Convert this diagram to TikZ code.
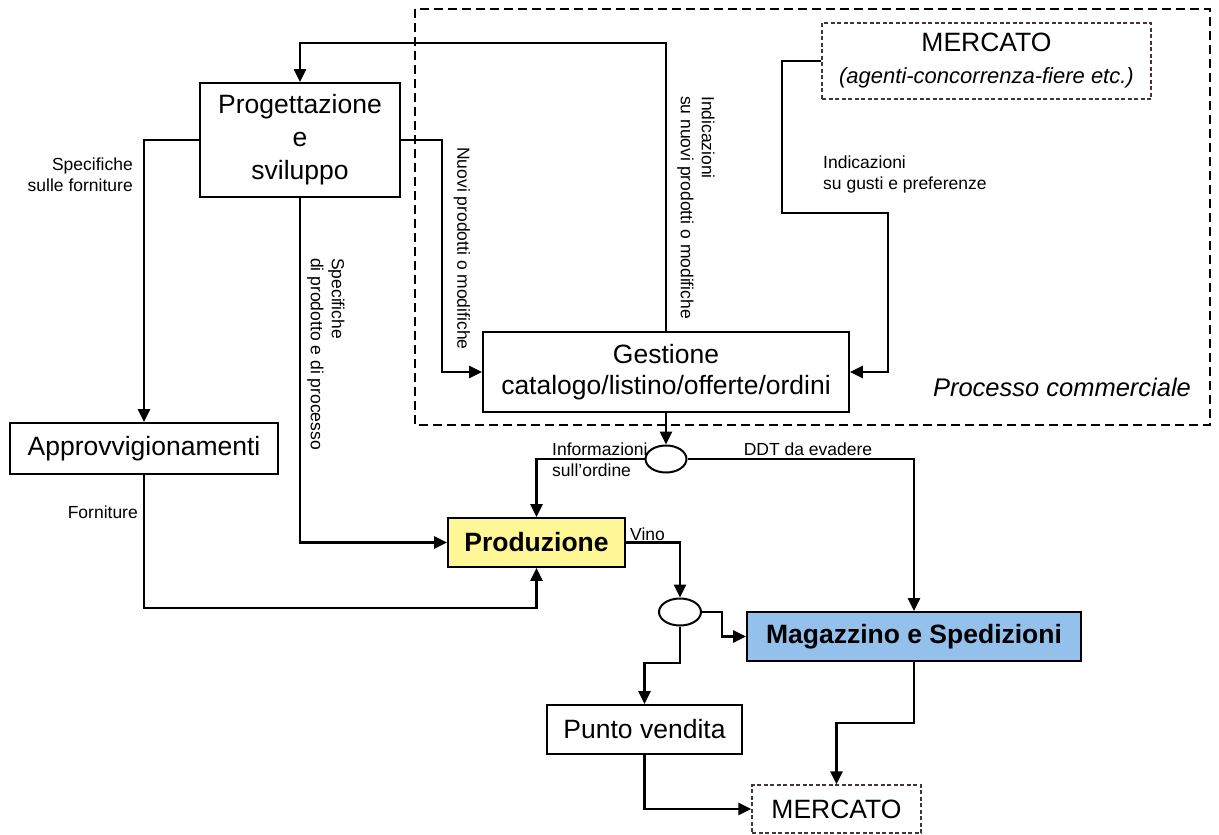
\documentclass[tikz,border=0pt]{standalone}
\usepackage{fontspec}
\setmainfont{Liberation Sans}
\usetikzlibrary{arrows.meta,shapes.geometric}
\definecolor{prodyellow}{RGB}{255,247,150}
\definecolor{magblue}{RGB}{148,192,236}
\definecolor{mercdash}{RGB}{70,50,60}
\begin{document}
\begin{tikzpicture}[x=1pt,y=-1pt,
  box/.style={draw=black,line width=1.8pt,rectangle,inner sep=0pt,align=center,
    font=\fontsize{26.5}{32}\selectfont},
  dbox/.style={box,draw=mercdash,dash pattern=on 4pt off 2.5pt,line width=1.5pt},
  conn/.style={line width=2.7pt,-{Triangle[length=13pt,width=12pt]}},
  lbl/.style={inner sep=0pt,font=\fontsize{17.5}{21}\selectfont},
  junc/.style={draw=black,line width=2pt,ellipse,fill=white,inner sep=0pt}]
\useasboundingbox (0,0) rectangle (1219,835);
\fill[white] (0,0) rectangle (1219,835);

% process region
\draw[line width=2.4pt,dash pattern=on 9pt off 5pt] (415,9) rectangle (1210,425);
\node[inner sep=0pt,font=\fontsize{25.5}{30}\selectfont\itshape] (pc) at (1062,387) {Processo commerciale};

% nodes
\node[box,minimum width=200pt,minimum height=114pt,font=\fontsize{26.5}{33}\selectfont] (prog) at (300,140) {Progettazione\\e\\sviluppo};
\node[box,minimum width=366pt,minimum height=80pt,font=\fontsize{26.5}{31}\selectfont] (gest) at (666,372) {Gestione\\catalogo/listino/offerte/ordini};
\node[box,minimum width=268pt,minimum height=51pt] (appr) at (144,448.5) {Approvvigionamenti};
\node[box,fill=prodyellow,minimum width=177pt,minimum height=49pt,font=\fontsize{26.5}{32}\selectfont\bfseries] (prod) at (536.5,542.5) {Produzione};
\node[box,fill=magblue,minimum width=334pt,minimum height=49pt,font=\fontsize{26.5}{32}\selectfont\bfseries] (mag) at (914,636.5) {Magazzino e Spedizioni};
\node[box,minimum width=195pt,minimum height=49pt] (pv) at (644.5,729.5) {Punto vendita};
\node[dbox,minimum width=169pt,minimum height=48pt] (merc2) at (836.5,809) {MERCATO};
\node[dbox,minimum width=329pt,minimum height=76pt] (merc1) at (986.5,61) {MERCATO\\{\fontsize{22}{28}\selectfont\itshape (agenti-concorrenza-fiere etc.)}};
\node[junc,minimum width=41pt,minimum height=27pt] (e1) at (666,459) {};
\node[junc,minimum width=42pt,minimum height=27pt] (e2) at (680,612) {};

% bend points
\coordinate (top1) at (666,43);
\coordinate (top2) at (300,43);
\coordinate (b2) at (442,140);
\coordinate (b5) at (144,608);
\coordinate (m1) at (782,61);
\coordinate (m2) at (782,213);
\coordinate (m3) at (888,213);
\coordinate (b11) at (722,612);
\coordinate (b12) at (680,663);
\coordinate (b14) at (914,723);

% connectors
\draw[conn] (gest.north) -- (top1) -- (top2) -- (prog.north);
\draw[conn] (prog.east) -- (b2) |- (gest.west);
\draw[conn] (prog.west) -| (appr.north);
\draw[conn] (prog.south) |- (prod.west);
\draw[conn] (appr.south) -- (b5) -| (prod.south);
\draw[conn] (merc1.west) -- (m1) -- (m2) -- (m3) |- (gest.east);
\draw[conn] (gest.south) -- (e1.north);
\draw[conn] (e1.west) -| (prod.north);
\draw[conn] (e1.east) -| (mag.north);
\draw[conn] (prod.east) -| (e2.north);
\draw[conn] (e2.east) -- (b11) |- (mag.west);
\draw[conn] (e2.south) -- (b12) -| (pv.north);
\draw[conn] (pv.south) |- (merc2.west);
\draw[conn] (mag.south) -- (b14) -| (merc2.north);

% labels
\node[lbl,align=right,anchor=east] (l1) at (133,175) {Specifiche\\sulle forniture};
\node[lbl,anchor=east] (l2) at (138,512) {Forniture};
\node[lbl,rotate=-90,anchor=west] (l3) at (462,147) {Nuovi prodotti o modifiche};
\node[lbl,rotate=-90,align=left,anchor=west] (l4) at (696,96) {Indicazioni\\su nuovi prodotti o modifiche};
\node[lbl,rotate=-90,align=left,anchor=west] (l5) at (326,258) {Specifiche\\di prodotto e di processo};
\node[lbl,align=left,anchor=west] (l6) at (823,174) {Indicazioni\\su gusti e preferenze};
\node[lbl,align=left,anchor=west] (l7) at (552,459.5) {Informazioni\\sull'ordine};
\node[lbl] (l8) at (808,449) {DDT da evadere};
\node[lbl,anchor=west] (l9) at (630,534) {Vino};
\end{tikzpicture}
\end{document}
